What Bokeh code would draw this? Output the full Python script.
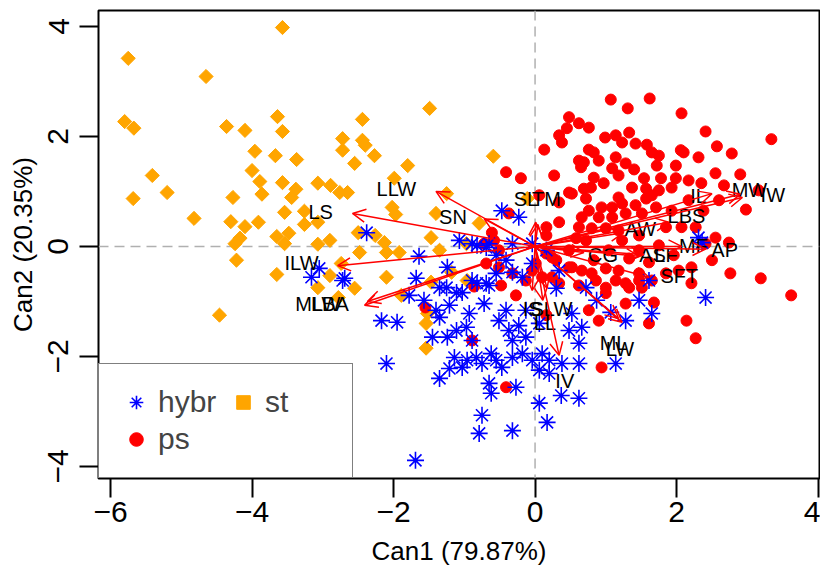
from bokeh.plotting import figure
from bokeh.models import (Range1d, Span, Arrow, OpenHead, ColumnDataSource,
                          Legend, LegendItem, FixedTicker)
from bokeh.core.properties import value
from bokeh.embed import file_html
from bokeh.resources import INLINE

FONT = "Liberation Sans"

# canonical scores
st_x = [-3.57, -5.75, -4.65, -5.80, -5.67, -3.64, -4.36, -4.10, -3.57, -2.44,
        -2.72, -2.44, -2.40, -2.72, -3.96, -3.67, -3.37, -2.27, -2.55, -4.00,
        -5.41, -3.89, -3.57, -5.20, -5.68, -4.27, -3.86, -3.38, -3.44, -3.07,
        -2.89, -2.76, -2.65, -4.82, -4.30, -4.10, -3.91, -3.54, -3.26, -3.26,
        -3.07, -3.65, -3.48, -4.17, -4.24, -3.54, -3.07, -2.90, -2.50, -1.49,
        -1.80, -1.99, -1.25, -0.59, -2.02, -1.97, -1.40, -1.47, -0.97, -1.35,
        -1.92, -2.10, -2.48, -2.74, -2.90, -3.07, -2.55, -2.10, -1.89, -2.78,
        -1.54, -4.22, -3.65, -4.46, -2.26, -2.13, -0.96, -1.18, -1.47, -1.52,
        -1.54, -0.11, -0.79]
st_y = [3.98, 3.42, 3.09, 2.27, 2.15, 2.36, 2.18, 2.11, 2.09, 2.31,
        1.96, 1.93, 1.84, 1.75, 1.73, 1.65, 1.58, 1.65, 1.51, 1.38,
        1.29, 1.18, 1.16, 0.98, 0.87, 0.89, 0.95, 1.04, 0.89, 1.15,
        1.11, 0.98, 0.98, 0.51, 0.45, 0.36, 0.44, 0.62, 0.64, 0.40,
        0.44, 0.18, 0.24, 0.15, 0.05, 0.05, 0.04, 0.11, 0.25, 2.51,
        1.47, 1.24, 0.96, 1.64, 0.71, 0.58, 0.60, 0.16, 0.05, -0.07,
        -0.11, -0.11, -0.11, -0.31, -0.53, -0.75, -0.76, -0.56, -0.89, -0.93,
        -1.40, -0.25, -0.51, -1.25, 0.20, 0.07, -0.62, -0.47, -0.65, -1.22,
        -1.85, 0.87, 0.42]

ps_x = [1.07, 1.62, 1.31, 2.07, 0.48, 0.62, 0.76, 0.45, 2.41, 3.34,
        0.34, 0.38, 0.99, 1.14, 1.33, 1.23, 1.42, 1.58, 2.57, 2.78,
        0.13, 0.76, 0.83, 1.65, 1.75, 2.06, 2.10, 2.31, 1.14, 1.28,
        0.69, 0.90, 1.72, 1.99, 1.09, 1.40, 1.18, 0.65, 2.55, 2.90,
        -0.41, -0.20, 0.83, 1.54, 1.78, 1.99, 2.17, 2.35, 0.79, 0.97,
        0.69, 0.52, 1.37, 1.57, 1.75, 1.93, 1.18, 0.72, 0.94, 1.09,
        1.23, 1.42, 1.57, 1.65, 0.34, 2.98, 0.76, 0.66, 0.90, 1.09,
        1.28, 1.51, 1.71, 1.93, -0.37, -0.61, -0.72, 0.62, 0.80, 1.00,
        1.18, 1.85, 2.07, 2.27, 2.55, 2.74, 2.41, 0.58, 0.72, 1.23,
        0.16, 0.30, 0.48, 0.66, 1.00, 1.18, 1.47, 1.65, 1.85, 2.03,
        2.21, 2.50, 2.76, 3.19, 3.62, 2.21, 1.51, 1.28, 1.00, 0.86,
        0.62, 0.34, 0.10, -0.04, -0.32, -0.51, -0.69, -0.51, 2.14, 2.27,
        1.61, 1.68, 1.28, 0.90, 0.94, -0.41, -0.89, -1.55, -0.48, -0.27,
        0.76, 1.00, 1.14, 1.33, 1.47, 0.16, -0.13, 0.01, 0.24, 0.52,
        0.80, 0.24, -0.86, -0.58, 0.16, 0.16, 0.48, 1.47, 1.75, 1.96,
        1.04, 0.48, 1.61, 1.33, 0.83, 0.34, 1.47, 2.38, 2.60, 2.17,
        2.67, 3.16, 0.62, 0.27, 0.06]
ps_y = [2.67, 2.69, 2.51, 2.42, 2.35, 2.24, 2.16, 2.15, 2.09, 1.95,
        2.02, 1.89, 1.98, 2.02, 2.07, 1.89, 1.87, 1.85, 1.82, 1.69,
        1.76, 1.76, 1.71, 1.71, 1.65, 1.75, 1.71, 1.62, 1.62, 1.51,
        1.53, 1.56, 1.47, 1.47, 1.42, 1.40, 1.29, 1.44, 1.33, 1.31,
        1.35, 1.24, 1.25, 1.24, 1.24, 1.24, 1.20, 1.15, 1.07, 1.15,
        1.05, 0.96, 1.07, 1.05, 1.02, 1.07, 0.89, 0.87, 0.71, 0.71,
        0.78, 0.75, 0.87, 0.93, 0.80, 0.67, 0.65, 0.53, 0.53, 0.53,
        0.60, 0.60, 0.71, 0.65, 0.60, 0.25, 0.05, 0.35, 0.33, 0.33,
        0.29, 0.35, 0.35, 0.35, 0.16, 0.07, 0.05, 0.15, 0.11, 0.11,
        -0.13, -0.25, -0.38, -0.44, -0.40, -0.44, -0.49, -0.62, -0.49, -0.44,
        -0.38, -0.25, -0.49, -0.58, -0.89, -0.67, -0.75, -0.67, -0.75, -0.62,
        -0.71, -0.67, -0.56, -0.44, -0.49, -0.38, -0.31, -0.07, -1.35, -1.67,
        -1.40, -1.02, -1.04, -1.35, -2.20, -2.56, -1.71, -1.11, -0.71, -0.89,
        -1.16, -0.85, -0.62, -0.75, -0.62, -1.25, -0.62, -0.31, -0.20, -0.38,
        -0.49, -0.56, -0.73, 0.11, 0.20, 0.35, 0.98, -0.07, 0.02, -0.16,
        -0.07, -0.07, -0.29, -0.22, -0.25, 0.44, 0.20, 0.65, 0.84, 0.84,
        1.11, 1.02, 1.56, 1.29, 0.93]

hybr_x = [-2.38, -1.64, -1.24, -1.68, -3.16, -3.05, -2.72, -2.17, -1.95, -1.40,
          -1.25, -1.11, -1.03, -1.45, -1.24, -0.82, -0.89, -2.69, -2.10, -1.35,
          -0.82, -0.65, -0.72, -0.93, -1.21, -1.35, -1.11, -0.97, -0.89, -1.14,
          -0.96, -0.83, -0.75, -1.35, -1.21, -1.03, -0.62, -0.55, -0.47, -0.32,
          -0.18, -0.04, 0.10, 0.20, 0.06, 0.20, 0.38, 0.62, -0.65, -0.27,
          -0.62, 0.06, 0.37, 0.62, 0.17, -0.75, -0.79, -0.32, -1.69, -0.51,
          -0.37, -0.23, -0.13, -0.32, -0.41, -0.13, 0.06, 0.52, 0.66, 0.62,
          0.48, 0.72, 0.30, 1.28, 1.65, 1.14, 2.41, -0.41, -0.55, -0.32,
          -0.18, -0.69, -0.04, 0.34, 0.16, -0.04, -0.32, -0.65, -0.55, -0.89,
          -1.07, -0.47, -0.23, 2.31, -0.69, -1.57, -1.78, 0.87, 1.07, 1.61,
          2.36, 1.47]
hybr_y = [0.25, -0.18, -0.38, -0.58, -0.56, -0.40, -0.62, -1.35, -1.38, -1.16,
          -0.75, -0.84, -0.84, -1.65, -1.65, 0.02, -0.62, -0.58, -2.13, -0.75,
          -0.67, -0.71, -1.04, -1.22, -1.07, -1.29, -1.53, -1.47, -1.71, -2.02,
          -2.07, -2.02, -2.13, -2.40, -2.22, -2.20, -1.95, -2.07, -2.20, -2.02,
          -1.95, -2.07, -1.95, -2.07, -2.25, -2.31, -2.13, -2.13, -2.49, -2.56,
          -2.67, -2.85, -2.71, -2.76, -3.20, -3.07, -3.40, -3.35, -3.89, -1.35,
          -1.53, -1.44, -1.65, -1.71, -1.16, -1.16, -1.40, -1.22, -1.47, -1.76,
          -1.53, -0.75, -0.76, -1.35, -1.22, -2.13, -0.93, -0.25, -0.49, -0.47,
          -0.56, -0.67, -0.31, -0.44, -0.07, 0.05, 0.05, 0.05, -0.16, 0.05,
          0.11, 0.65, 0.53, 0.16, -0.02, -0.98, -0.89, -0.98, -1.20, -0.62,
          0.07, -0.98]

# structure vectors
var_names = ["LS", "LLW", "SN", "ILW", "MLW", "LBA", "SL", "TM", "IS", "SLW",
             "LL", "IV", "ML", "LW", "CG", "AW", "AS", "LF", "SFT", "MF",
             "AP", "LBS", "IL", "MW", "IW"]
vec_x = [-2.58, -1.40, -0.72, -2.79, -2.41, -2.37, 0.01, 0.04, -0.04, 0.17,
         0.11, 0.34, 1.23, 1.18, 0.69, 1.25, 1.47, 1.54, 1.61, 2.07,
         2.41, 1.89, 2.50, 2.93, 2.90]
vec_y = [0.60, 1.00, 0.50, -0.35, -1.07, -1.00, 0.44, 0.40, -0.80, -0.76,
         -0.98, -1.98, -1.38, -1.31, -0.11, 0.25, -0.18, -0.15, -0.56, 0.00,
         -0.05, 0.44, 0.96, 0.89, 0.95]
lab_x = [-3.03, -1.96, -1.16, -3.30, -3.07, -2.90, -0.13, 0.16, -0.04, 0.23,
         0.14, 0.42, 1.11, 1.20, 0.96, 1.49, 1.66, 1.85, 2.04, 2.24,
         2.68, 2.14, 2.31, 3.03, 3.36]
lab_y = [0.62, 1.05, 0.53, -0.31, -1.04, -1.04, 0.87, 0.87, -1.13, -1.13,
         -1.40, -2.44, -1.75, -1.87, -0.16, 0.31, -0.16, -0.16, -0.53, 0.00,
         -0.07, 0.55, 0.91, 1.02, 0.93]

x_ticks = [-6, -4, -2, 0, 2, 4]
y_ticks = [-4, -2, 0, 2, 4]

p = figure(width=820, height=570, output_backend="svg", toolbar_location=None,
           x_range=Range1d(-6.17, 4.02), y_range=Range1d(-4.22, 4.29),
           min_border_left=98, min_border_right=1, min_border_top=10,
           min_border_bottom=92, x_axis_label="Can1 (79.87%)",
           y_axis_label="Can2 (20.35%)")
p.grid.visible = False
p.outline_line_color = "black"
p.outline_line_width = 2
p.background_fill_color = "white"

p.xaxis.ticker = FixedTicker(ticks=x_ticks)
p.yaxis.ticker = FixedTicker(ticks=y_ticks)
p.xaxis.major_label_overrides = {t: str(t).replace("-", "\u2212") for t in x_ticks}
p.yaxis.major_label_overrides = {t: str(t).replace("-", "\u2212") for t in y_ticks}
p.yaxis.major_label_orientation = "vertical"
for ax in (p.xaxis, p.yaxis):
    ax.axis_line_color = None
    ax.major_tick_in = 0
    ax.major_tick_out = 19
    ax.major_tick_line_width = 2
    ax.minor_tick_line_color = None
    ax.major_label_text_font = FONT
    ax.major_label_text_font_size = "30px"
    ax.major_label_text_color = "black"
    ax.axis_label_text_font = FONT
    ax.axis_label_text_font_size = "26px"
    ax.axis_label_text_font_style = "normal"
    ax.axis_label_text_color = "black"
p.xaxis.major_label_standoff = 4
p.xaxis.axis_label_standoff = 11
p.yaxis.major_label_standoff = 11
p.yaxis.axis_label_standoff = 8

for dim in ("height", "width"):
    p.add_layout(Span(location=0, dimension=dim, line_color="#b0b0b0",
                      line_width=1.5, line_dash="10 6", level="underlay"))

r_st = p.scatter(st_x, st_y, marker="square", angle=0.785398, size=10,
                 fill_color="orange", line_color="orange")
r_ps = p.scatter(ps_x, ps_y, marker="circle", size=11,
                 fill_color="red", line_color="red")
r_hy = p.scatter(hybr_x, hybr_y, marker="asterisk", size=17,
                 line_color="blue", line_width=1.6)

vec_src = ColumnDataSource(dict(x0=[0] * len(vec_x), y0=[0] * len(vec_y),
                                x1=vec_x, y1=vec_y))
p.add_layout(Arrow(source=vec_src, x_start="x0", y_start="y0", x_end="x1", y_end="y1",
                   line_color="red", line_width=1.5,
                   end=OpenHead(size=13, line_color="red", line_width=1.5)))

p.text(lab_x, lab_y, text=var_names, text_align="center", text_baseline="middle",
       text_font=value(FONT), text_font_size="20px", text_color="black")

legend = Legend(items=[LegendItem(label="hybr", renderers=[r_hy]),
                       LegendItem(label="ps", renderers=[r_ps]),
                       LegendItem(label="st", renderers=[r_st])],
                location="bottom_left", orientation="vertical", nrows=2,
                margin=0, padding=20, spacing=1, glyph_width=34, glyph_height=36,
                label_standoff=5, label_width=67,
                label_text_font=FONT, label_text_font_size="30px",
                border_line_color="black", border_line_width=1.5,
                background_fill_color="white", background_fill_alpha=1)
p.add_layout(legend)

open("out.html", "w").write(file_html(p, INLINE))
